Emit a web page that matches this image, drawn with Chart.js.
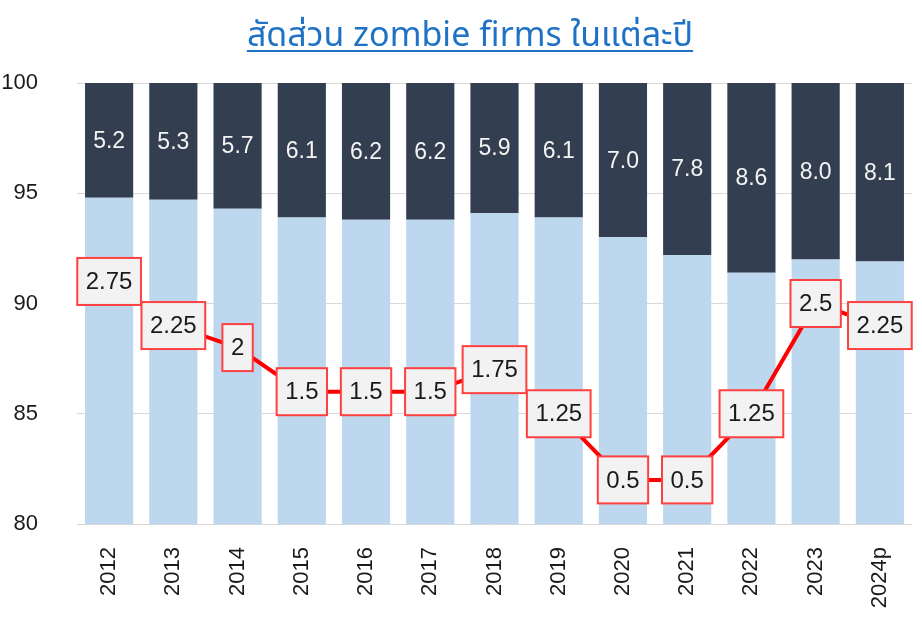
<!DOCTYPE html>
<html>
<head>
<meta charset="utf-8">
<script src="https://cdn.jsdelivr.net/npm/chart.js@4.4.1/dist/chart.umd.min.js"></script>
<style>
  html, body { margin: 0; padding: 0; background: #fff; }
  #wrap { position: relative; width: 922px; height: 620px; }
  #title {
    position: absolute; left: 0; top: 10px; width: 940px; text-align: center;
    font-family: Tahoma, "Noto Sans Thai", "Noto Sans", "DejaVu Sans", sans-serif;
    font-size: 34px; color: #1f72c4; text-decoration: underline;
    text-decoration-thickness: 2px; text-underline-offset: 4px;
  }
</style>
</head>
<body>
<div id="wrap">
  <div id="title">สัดส่วน zombie firms ในแต่ละปี</div>
  <canvas id="chart" width="922" height="620"></canvas>
</div>
<script>
const years = ['2012', '2013', '2014', '2015', '2016', '2017', '2018', '2019', '2020', '2021', '2022', '2023', '2024p'];
const zombieShare = [5.2, 5.3, 5.7, 6.1, 6.2, 6.2, 5.9, 6.1, 7.0, 7.8, 8.6, 8.0, 8.1];
const policyRate = [2.75, 2.25, 2, 1.5, 1.5, 1.5, 1.75, 1.25, 0.5, 0.5, 1.25, 2.5, 2.25];
const yTicks = [80, 85, 90, 95, 100];

const otherShare = zombieShare.map(v => +(100 - v).toFixed(1));
const FONT = '"Liberation Sans", Arial, sans-serif';

// labels inside the dark bars and boxed labels on the line
const labelPlugin = {
    id: 'valueLabels',
    afterDatasetsDraw(chart) {
        const ctx = chart.ctx;
        ctx.save();
        ctx.textAlign = 'center';
        ctx.textBaseline = 'middle';

        // zombie share labels
        ctx.font = '23px ' + FONT;
        ctx.fillStyle = '#f4f4f4';
        chart.getDatasetMeta(1).data.forEach((bar, i) => {
            const p = bar.getProps(['x', 'y', 'base'], true);
            ctx.fillText(zombieShare[i].toFixed(1), p.x, (p.y + p.base) / 2 + 1);
        });

        // policy rate boxes
        ctx.font = '24px ' + FONT;
        chart.getDatasetMeta(2).data.forEach((pt, i) => {
            const txt = String(policyRate[i]);
            const w = ctx.measureText(txt).width + 17;
            const h = 47;
            const x = pt.x - w / 2, y = pt.y - h / 2;
            ctx.fillStyle = '#f2f2f2';
            ctx.fillRect(x, y, w, h);
            ctx.strokeStyle = '#ff4040';
            ctx.lineWidth = 2;
            ctx.strokeRect(x, y, w, h);
            ctx.fillStyle = '#1a1a1a';
            ctx.fillText(txt, pt.x, pt.y + 1);
        });
        ctx.restore();
    }
};

new Chart(document.getElementById('chart'), {
    type: 'bar',
    data: {
        labels: years,
        datasets: [{
            label: 'other',
            data: otherShare,
            backgroundColor: '#bdd7ee'
        }, {
            label: 'zombie',
            data: zombieShare,
            backgroundColor: '#333f50'
        }, {
            type: 'line',
            label: 'rate',
            data: policyRate,
            yAxisID: 'y1',
            borderColor: '#ff0000',
            borderWidth: 4,
            pointRadius: 0,
            tension: 0,
            order: -1
        }]
    },
    plugins: [labelPlugin],
    options: {
        responsive: false,
        animation: false,
        layout: { padding: { top: 83, right: 10, left: 0, bottom: 0 } },
        datasets: {
            bar: { categoryPercentage: 1, barPercentage: 0.75 }
        },
        scales: {
            x: {
                stacked: true,
                afterFit: axis => { axis.height = 96; },
                grid: { display: false },
                border: { display: false },
                ticks: {
                    maxRotation: 90,
                    minRotation: 90,
                    padding: 15,
                    color: '#1a1a1a',
                    font: { family: FONT, size: 22 }
                }
            },
            y: {
                stacked: true,
                min: 80,
                max: 100,
                afterBuildTicks: axis => { axis.ticks = yTicks.map(v => ({ value: v })); },
                afterFit: axis => { axis.width = 77; },
                grid: { color: '#d9d9d9', drawTicks: false },
                border: { display: false },
                ticks: {
                    padding: 39,
                    color: '#1a1a1a',
                    font: { family: FONT, size: 22 }
                }
            },
            y1: {
                display: false,
                stacked: false,
                min: 0,
                max: 5
            }
        },
        plugins: {
            legend: { display: false },
            tooltip: { enabled: false }
        }
    }
});
</script>
</body>
</html>
